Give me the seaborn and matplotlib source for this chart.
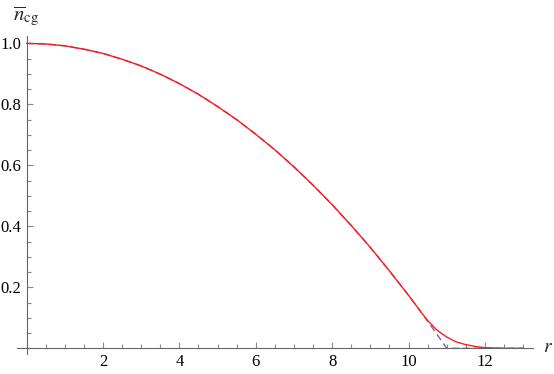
import matplotlib
matplotlib.use("Agg")
import matplotlib.pyplot as plt
import seaborn as sns
import pandas as pd
from matplotlib.ticker import MultipleLocator, FixedLocator

# Data
r_vals = [0, 0.5, 1, 1.5, 2, 2.5, 3, 3.5, 4, 4.5, 5, 5.5, 6, 6.5, 7, 7.5, 8, 8.5,
          9, 9.5, 10, 10.25, 10.5, 10.75, 11, 11.25, 11.5, 11.75, 12, 12.5, 13]
n_thomas_fermi = [1.000, 0.998, 0.992, 0.981, 0.967, 0.948, 0.926, 0.899, 0.868,
                  0.833, 0.793, 0.750, 0.702, 0.651, 0.595, 0.535, 0.471, 0.403,
                  0.331, 0.254, 0.174, 0.132, 0.089, 0.045, 0.0, 0.0, 0.0, 0.0,
                  0.0, 0.0, 0.0]
n_cg = [1.000, 0.998, 0.992, 0.981, 0.967, 0.948, 0.926, 0.899, 0.868,
        0.833, 0.793, 0.750, 0.702, 0.651, 0.595, 0.535, 0.471, 0.403,
        0.331, 0.254, 0.174, 0.132, 0.091, 0.059, 0.037, 0.021, 0.012, 0.006,
        0.002, 0.0, 0.0]
x_ticks = [2, 4, 6, 8, 10, 12]
y_ticks = [0.2, 0.4, 0.6, 0.8, 1.0]

df = pd.DataFrame({"r": r_vals, "tf": n_thomas_fermi, "cg": n_cg})

sns.set_style("ticks")
plt.rcParams["font.family"] = "serif"
plt.rcParams["font.serif"] = ["Liberation Serif", "DejaVu Serif"]
plt.rcParams["mathtext.fontset"] = "stix"

fig = plt.figure(figsize=(5.54, 3.74), dpi=100)
ax = fig.add_axes([0.0301, 0.0524, 0.932, 0.852])

sns.lineplot(data=df, x="r", y="tf", ax=ax, color="#8a5a9c", lw=1.0,
             linestyle=(0, (5, 3)), estimator=None, sort=False)
sns.lineplot(data=df, x="r", y="cg", ax=ax, color="#ff1a1a", lw=1.0,
             estimator=None, sort=False)

ax.set_xlim(-0.26, 13.26)
ax.set_ylim(-0.02, 1.025)
ax.set_xlabel("")
ax.set_ylabel("")

for s in ["top", "right"]:
    ax.spines[s].set_visible(False)
ax.spines["left"].set_position(("data", 0))
ax.spines["bottom"].set_position(("data", 0))
for s in ["left", "bottom"]:
    ax.spines[s].set_color("#666666")
    ax.spines[s].set_linewidth(0.8)

ax.xaxis.set_major_locator(FixedLocator(x_ticks))
ax.xaxis.set_minor_locator(MultipleLocator(0.5))
ax.yaxis.set_major_locator(FixedLocator(y_ticks))
ax.yaxis.set_minor_locator(MultipleLocator(0.05))
ax.set_xticklabels([str(t) for t in x_ticks], fontfamily="Liberation Serif")
ax.set_yticklabels([f"{t:.1f}" for t in y_ticks], fontfamily="Liberation Serif")
ax.tick_params(which="both", direction="in", color="#888888", width=0.8,
               labelsize=12, labelcolor="black")
ax.tick_params(which="major", length=4.5, pad=4)
ax.tick_params(which="minor", length=2.8)

fig.text(543 / 554, 1 - 348 / 374, "$r$", fontsize=14, ha="left", va="center")
fig.text(13 / 554, 1 - 16 / 374, r"$\overline{n}_{\mathrm{cg}}$", fontsize=15,
         ha="left", va="center")

fig.savefig("out.png", dpi=100)
